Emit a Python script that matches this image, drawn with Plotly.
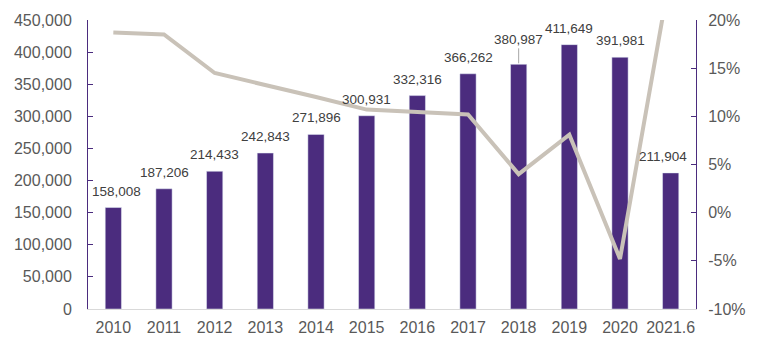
import plotly.graph_objects as go

categories = ["2010", "2011", "2012", "2013", "2014", "2015", "2016", "2017", "2018", "2019", "2020", "2021.6"]
values = [158008, 187206, 214433, 242843, 271896, 300931, 332316, 366262, 380987, 411649, 391981, 211904]
growth = [18.7, 18.5, 14.5, 13.3, 12.0, 10.7, 10.4, 10.2, 4.0, 8.1, -4.8, 25.0]
left_ticks = [0, 50000, 100000, 150000, 200000, 250000, 300000, 350000, 400000, 450000]
right_ticks = [-10, -5, 0, 5, 10, 15, 20]
right_labels = ["-10%", "-5%", "0%", "5%", "10%", "15%", "20%"]

purple = "#4B2C7E"
gray_line = "#C9C2B8"
font_family = "Liberation Sans, Arial, sans-serif"

fig = go.Figure()
fig.add_trace(go.Bar(
    x=categories, y=values, marker_color=purple, width=0.32, yaxis="y",
))
fig.add_trace(go.Scatter(
    x=categories, y=growth, mode="lines", line=dict(color=gray_line, width=4),
    yaxis="y2",
))

for i, (c, v) in enumerate(zip(categories, values)):
    if c == "2018":
        fig.add_annotation(x=i, y=v, xref="x", yref="y", text=f"{v:,}", showarrow=True,
                           arrowhead=0, arrowwidth=1, arrowcolor="#A6A6A6", ax=0, ay=-25,
                           standoff=1, font=dict(size=13.5, color="#404040", family=font_family))
    else:
        xs = 0
        if c == "2021.6":
            xs = -8
        elif c == "2010":
            xs = 3
        fig.add_annotation(x=i, y=v, xref="x", yref="y", text=f"{v:,}", showarrow=False,
                           yanchor="bottom", yshift=7, xshift=xs,
                           font=dict(size=13.5, color="#404040", family=font_family))

fig.update_layout(
    width=775, height=338,
    margin=dict(l=88, r=79, t=20, b=29, autoexpand=False),
    paper_bgcolor="white", plot_bgcolor="white",
    showlegend=False,
    font=dict(family=font_family, color="#595959", size=16),
    xaxis=dict(type="category", automargin=False, showgrid=False, showline=True,
               linecolor="#D9D9D9", linewidth=1,
               ticks="", ticklabelstandoff=4, tickfont=dict(size=16, color="#595959")),
    yaxis=dict(range=[0, 450000], automargin=False, tickvals=left_ticks, tickformat=",d", showgrid=False,
               showline=True, linecolor=purple, linewidth=1, ticks="inside", ticklen=5,
               tickcolor=purple, zeroline=False, ticklabelstandoff=12,
               tickfont=dict(size=16, color="#595959")),
    yaxis2=dict(range=[-10, 20], automargin=False, tickvals=right_ticks, ticktext=right_labels,
                overlaying="y", side="right",
                showgrid=False, showline=True, linecolor=purple, linewidth=1, ticks="inside",
                ticklen=5, tickcolor=purple, zeroline=False, ticklabelstandoff=8,
                tickfont=dict(size=16, color="#595959")),
)

fig.write_html("out.html")
